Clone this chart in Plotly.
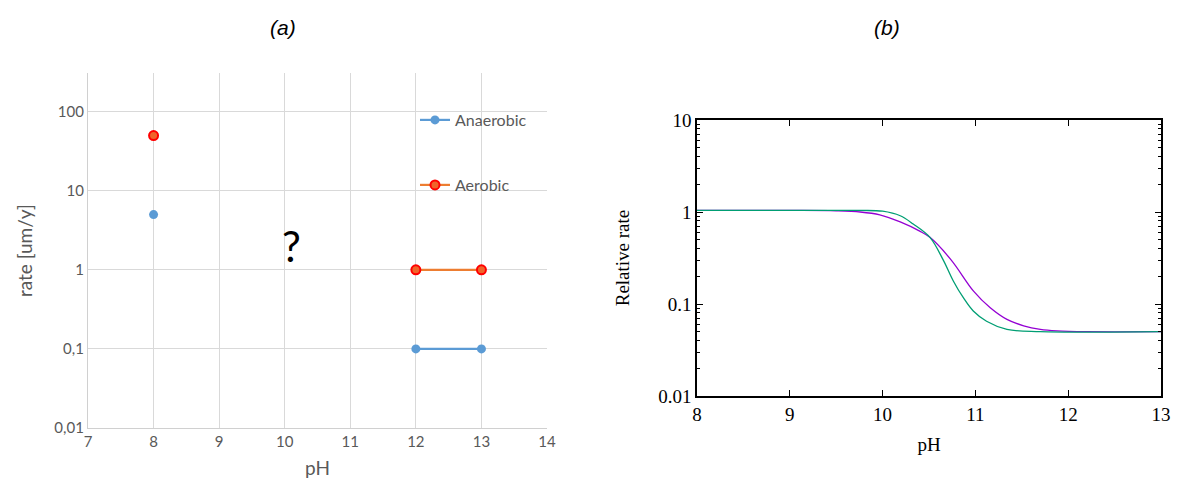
import plotly.graph_objects as go

# ---------------- data: panel (a) ----------------
ph_a = [8, 10, 12, 13]
anaerobic = [5, None, 0.1, 0.1]
aerobic = [50, None, 1, 1]
ytick_vals_a = [0.01, 0.1, 1, 10, 100]
ytick_text_a = ["0,01", "0,1", "1", "10", "100"]
question_ph = 10.1
question_rate = 2.0

# ---------------- data: panel (b) ----------------
ph_green = [8, 9, 9.76, 10.0, 10.19, 10.33, 10.51, 10.654, 10.762, 10.87, 10.977, 11.12, 11.34, 11.7, 13]
rate_green = [1.04, 1.04, 1.04, 1.02, 0.91, 0.74, 0.53, 0.30, 0.178, 0.117, 0.084, 0.065, 0.053, 0.05, 0.05]
ph_purple = [8, 9, 9.5, 9.76, 9.97, 10.19, 10.40, 10.51, 10.74, 10.98, 11.16, 11.34, 11.52, 11.70, 11.88, 12.2, 13]
rate_purple = [1.04, 1.04, 1.03, 1.0, 0.93, 0.78, 0.62, 0.53, 0.30, 0.138, 0.091, 0.068, 0.058, 0.053, 0.051, 0.05, 0.05]
ytick_vals_b = [0.01, 0.1, 1, 10]
ytick_text_b = ["0.01", "0.1", "1", "10"]
xtick_vals_b = [8, 9, 10, 11, 12, 13]

W, H = 1182, 490
OFF = 8  # page body margin offset
def px(x):
    return (x - OFF) / W
def py(y):
    return 1 - (y - OFF) / H

fig = go.Figure()

# panel (a)
fig.add_trace(go.Scatter(
    x=ph_a, y=anaerobic, name="Anaerobic", mode="lines+markers",
    line=dict(color="#5B9BD5", width=2.2),
    marker=dict(color="#5B9BD5", size=9),
    connectgaps=False, xaxis="x", yaxis="y", legend="legend"))
fig.add_trace(go.Scatter(
    x=ph_a, y=aerobic, name="Aerobic", mode="lines+markers",
    line=dict(color="#ED7D31", width=2.2),
    marker=dict(color="#F0642A", size=9, line=dict(color="#FF0000", width=2)),
    connectgaps=False, xaxis="x", yaxis="y", legend="legend2"))

# panel (b)
fig.add_trace(go.Scatter(
    x=ph_purple, y=rate_purple, mode="lines", line=dict(color="#9400D3", width=1.3, shape="spline", smoothing=1.0),
    showlegend=False, xaxis="x2", yaxis="y2"))
fig.add_trace(go.Scatter(
    x=ph_green, y=rate_green, mode="lines", line=dict(color="#009E73", width=1.3, shape="spline", smoothing=1.0),
    showlegend=False, xaxis="x2", yaxis="y2"))

gray_txt = "#595959"
grid = "#D9D9D9"
sans = "Lato, Open Sans, sans-serif"
serif = "Liberation Serif, serif"

fig.update_layout(
    width=W, height=H,
    margin=dict(l=0, r=0, t=0, b=0, autoexpand=False),
    paper_bgcolor="white", plot_bgcolor="white",
    xaxis=dict(domain=[px(88), px(547)], range=[7, 14], dtick=1, tick0=7,
               automargin=False,
               showgrid=True, gridcolor=grid, gridwidth=1.3,
               showline=True, linecolor="#D0D0D0", linewidth=1.3,
               zeroline=False, ticks="",
               tickfont=dict(family=sans, size=15, color=gray_txt),
               title=dict(text="pH", font=dict(family=sans, size=19, color=gray_txt), standoff=12),
               anchor="y"),
    yaxis=dict(domain=[py(428), py(73.3)], type="log", range=[-2, 2.486],
               automargin=False,
               tickvals=ytick_vals_a, ticktext=ytick_text_a,
               showgrid=True, gridcolor=grid, gridwidth=1.3,
               showline=True, linecolor="#D0D0D0", linewidth=1.3,
               zeroline=False, ticks="",
               tickfont=dict(family=sans, size=15, color=gray_txt),
               title=dict(text="rate [um/y]", font=dict(family=sans, size=19, color=gray_txt), standoff=16),
               anchor="x"),
    xaxis2=dict(domain=[px(697), px(1161)], range=[8, 13], tickvals=xtick_vals_b,
                automargin=False,
                showgrid=False, zeroline=False,
                showline=True, linecolor="black", linewidth=1.5, mirror="ticks",
                ticks="inside", ticklen=6, tickcolor="black",
                tickfont=dict(family=serif, size=19, color="black"),
                title=dict(text="pH", font=dict(family=serif, size=19, color="black"), standoff=14),
                anchor="y2"),
    yaxis2=dict(domain=[py(396), py(120)], type="log", range=[-2, 1],
                automargin=False,
                tickvals=ytick_vals_b, ticktext=ytick_text_b,
                showgrid=False, zeroline=False,
                showline=True, linecolor="black", linewidth=1.5, mirror="ticks",
                ticks="inside", ticklen=6, tickcolor="black",
                minor=dict(ticks="inside", ticklen=3, tickcolor="black", dtick="D1"),
                tickfont=dict(family=serif, size=19, color="black"),
                title=dict(text="Relative rate", font=dict(family=serif, size=19, color="black"), standoff=24),
                anchor="x2"),
    legend=dict(x=px(415), y=py(120), xanchor="left", yanchor="middle",
                bgcolor="rgba(0,0,0,0)", font=dict(family=sans, size=16, color=gray_txt)),
    legend2=dict(x=px(415), y=py(185), xanchor="left", yanchor="middle",
                 bgcolor="rgba(0,0,0,0)", font=dict(family=sans, size=16, color=gray_txt)),
    showlegend=True,
)

fig.add_annotation(x=question_ph, y=0.30103, xref="x", yref="y", text="?", showarrow=False,
                   font=dict(family=sans, size=42, color="black"))
fig.add_annotation(x=px(283), y=py(27), xref="paper", yref="paper", xanchor="center", yanchor="middle",
                   text="<i>(a)</i>", showarrow=False,
                   font=dict(family="Liberation Sans, Arial, sans-serif", size=21, color="black"))
fig.add_annotation(x=px(887), y=py(27), xref="paper", yref="paper", xanchor="center", yanchor="middle",
                   text="<i>(b)</i>", showarrow=False,
                   font=dict(family="Liberation Sans, Arial, sans-serif", size=21, color="black"))

fig.write_html("out.html")
